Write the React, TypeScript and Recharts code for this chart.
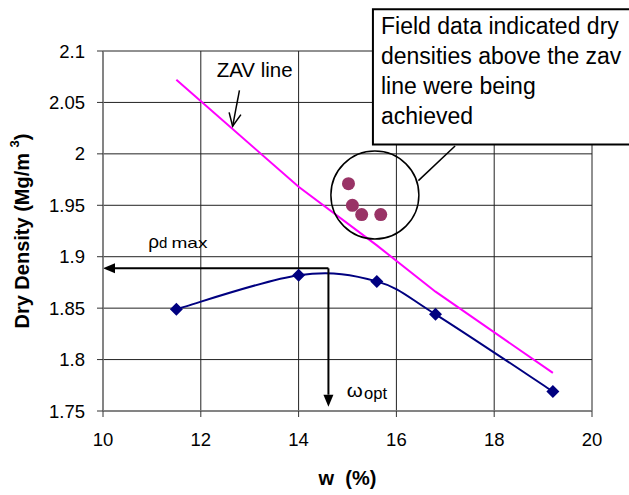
import React from "react";
import {
  ComposedChart,
  Line,
  Scatter,
  XAxis,
  YAxis,
  CartesianGrid,
  ReferenceLine,
  ReferenceDot,
  ReferenceArea,
  Label,
} from "recharts";

// compaction test (Proctor curve)
const compactW = [11.5, 14.0, 15.6, 16.8, 19.2];
const compactRho = [1.849, 1.882, 1.876, 1.844, 1.769];

// zero air voids line, at the same moisture contents
const zavRho = [2.072, 1.968, 1.911, 1.866, 1.787];

// field measurements
const fieldW = [15.02, 15.1, 15.29, 15.68];
const fieldRho = [1.971, 1.95, 1.941, 1.941];

const xTicks = [10, 12, 14, 16, 18, 20];
const yTicks = [1.75, 1.8, 1.85, 1.9, 1.95, 2, 2.05, 2.1];

const calloutLines = [
  "Field data indicated dry",
  "densities above the zav",
  "line were being",
  "achieved",
];

const compactData = compactW.map((w, i) => ({ w, rho: compactRho[i] }));
const zavData = compactW.map((w, i) => ({ w, rho: zavRho[i] }));
const fieldData = fieldW.map((w, i) => ({ w, rho: fieldRho[i] }));

const FONT = '"Liberation Sans", Arial, sans-serif';

// Excel style smoothed line (catmull-rom as cubic beziers)
function excelSmooth(context: any) {
  let pts: number[][] = [];
  return {
    areaStart() {},
    areaEnd() {},
    lineStart() {
      pts = [];
    },
    point(x: number, y: number) {
      pts.push([+x, +y]);
    },
    lineEnd() {
      const n = pts.length;
      if (!n) return;
      context.moveTo(pts[0][0], pts[0][1]);
      const t = 1 / 6;
      for (let i = 0; i < n - 1; i++) {
        const p0 = pts[Math.max(i - 1, 0)];
        const p1 = pts[i];
        const p2 = pts[i + 1];
        const p3 = pts[Math.min(i + 2, n - 1)];
        context.bezierCurveTo(
          p1[0] + (p2[0] - p0[0]) * t,
          p1[1] + (p2[1] - p0[1]) * t,
          p2[0] - (p3[0] - p1[0]) * t,
          p2[1] - (p3[1] - p1[1]) * t,
          p2[0],
          p2[1]
        );
      }
    },
  };
}

const Diamond = (props: any) => {
  const { cx, cy, index } = props;
  if (cx == null || cy == null) return <g key={`d-${index}`} />;
  const s = 6.5;
  return (
    <path
      key={`d-${index}`}
      d={`M${cx},${cy - s}L${cx + s},${cy}L${cx},${cy + s}L${cx - s},${cy}Z`}
      fill="#000080"
    />
  );
};

// solid arrow, head at the second point of the segment
const FilledArrow = (props: any) => {
  const { x1, y1, x2, y2 } = props;
  const dx = x2 - x1;
  const dy = y2 - y1;
  const len = Math.hypot(dx, dy) || 1;
  const ux = dx / len;
  const uy = dy / len;
  const hl = 12;
  const hw = 5;
  const bx = x2 - ux * hl;
  const by = y2 - uy * hl;
  return (
    <g>
      <line x1={x1} y1={y1} x2={bx} y2={by} stroke="#000" strokeWidth={2} />
      <path
        d={`M${x2},${y2}L${bx - uy * hw},${by + ux * hw}L${bx + uy * hw},${by - ux * hw}Z`}
        fill="#000"
      />
    </g>
  );
};

// thin arrow with an open head
const OpenArrow = (props: any) => {
  const { x1, y1, x2, y2 } = props;
  const dx = x2 - x1;
  const dy = y2 - y1;
  const len = Math.hypot(dx, dy) || 1;
  const ux = dx / len;
  const uy = dy / len;
  const hl = 13;
  const hw = 6;
  const bx = x2 - ux * hl;
  const by = y2 - uy * hl;
  return (
    <g fill="none" stroke="#000" strokeWidth={1.5}>
      <line x1={x1} y1={y1} x2={x2} y2={y2} />
      <path d={`M${bx - uy * hw},${by + ux * hw}L${x2},${y2}L${bx + uy * hw},${by - ux * hw}`} />
    </g>
  );
};

const PlainLine = (props: any) => {
  const { x1, y1, x2, y2 } = props;
  return <line x1={x1} y1={y1} x2={x2} y2={y2} stroke="#000" strokeWidth={1.5} />;
};

const fmtY = (v: number) => String(Number(v.toFixed(2)));

export default function App() {
  return (
    <div style={{ position: "absolute", left: 0, top: 0, fontFamily: FONT, background: "#fff" }}>
      <ComposedChart
        width={629}
        height={495}
        margin={{ top: 51, right: 37, bottom: 0, left: 0 }}
      >
        <CartesianGrid stroke="#222" strokeWidth={1} />
        <XAxis
          dataKey="w"
          type="number"
          domain={[10, 20]}
          ticks={xTicks}
          height={84}
          tickSize={6}
          tickMargin={16}
          axisLine={{ stroke: "#808080", strokeWidth: 1.5 }}
          tickLine={{ stroke: "#333" }}
          tick={{ fontSize: 18.5, fill: "#000", fontFamily: FONT }}
        >
          <Label
            content={(p: any) => {
              const vb = p.viewBox;
              return (
                <text
                  x={vb.x + vb.width / 2}
                  y={vb.y + 67}
                  textAnchor="middle"
                  dominantBaseline="central"
                  fontWeight="bold"
                  fontSize={20}
                  fontFamily={FONT}
                  fill="#000"
                  style={{ whiteSpace: "pre" }}
                >
                  {"w  (%)"}
                </text>
              );
            }}
          />
        </XAxis>
        <YAxis
          dataKey="rho"
          type="number"
          domain={[1.75, 2.1]}
          ticks={yTicks}
          width={103}
          tickSize={6}
          tickMargin={12}
          tickFormatter={fmtY}
          axisLine={{ stroke: "#808080", strokeWidth: 1.5 }}
          tickLine={{ stroke: "#333" }}
          tick={{ fontSize: 18.5, fill: "#000", fontFamily: FONT }}
        >
          <Label
            content={(p: any) => {
              const vb = p.viewBox;
              const cx = vb.x + 22;
              const cy = vb.y + vb.height / 2;
              return (
                <text
                  x={cx}
                  y={cy}
                  transform={`rotate(-90 ${cx} ${cy})`}
                  textAnchor="middle"
                  dominantBaseline="central"
                  fontWeight="bold"
                  fontSize={20}
                  fontFamily={FONT}
                  fill="#000"
                >
                  Dry Density (Mg/m{" "}
                  <tspan fontSize={13} dy={-8}>
                    3
                  </tspan>
                  <tspan dy={8}>)</tspan>
                </text>
              );
            }}
          />
        </YAxis>

        <Line
          data={zavData}
          dataKey="rho"
          type="linear"
          stroke="#FF00FF"
          strokeWidth={2}
          dot={false}
          activeDot={false}
          isAnimationActive={false}
        />
        <Line
          data={compactData}
          dataKey="rho"
          type={excelSmooth as any}
          stroke="#000080"
          strokeWidth={2}
          dot={Diamond}
          activeDot={false}
          isAnimationActive={false}
        />
        <Scatter
          data={fieldData}
          dataKey="rho"
          isAnimationActive={false}
          shape={(p: any) => <circle cx={p.cx} cy={p.cy} r={6.5} fill="#993366" />}
        />

        {/* rho_d max and w_opt arrows */}
        <ReferenceLine
          segment={[{ x: 14.61, y: 1.8887 }, { x: 10, y: 1.8887 }]}
          ifOverflow="visible"
          shape={FilledArrow}
        />
        <ReferenceLine
          segment={[{ x: 14.61, y: 1.8887 }, { x: 14.61, y: 1.7542 }]}
          ifOverflow="visible"
          shape={FilledArrow}
        />
        <ReferenceDot
          x={10.926}
          y={1.9088}
          ifOverflow="visible"
          shape={(p: any) => (
            <text x={p.cx} y={p.cy} fontFamily={FONT} fill="#000">
              <tspan fontSize={19}>ρ</tspan>
              <tspan fontSize={15}>d</tspan>
              <tspan dx={4} fontSize={15} textLength={36} lengthAdjust="spacingAndGlyphs">
                max
              </tspan>
            </text>
          )}
        />
        <ReferenceDot
          x={14.985}
          y={1.7639}
          ifOverflow="visible"
          shape={(p: any) => (
            <text x={p.cx} y={p.cy} fontFamily={FONT} fill="#000">
              <tspan fontSize={19} textLength={16} lengthAdjust="spacingAndGlyphs">
                ω
              </tspan>
              <tspan x={p.cx + 17.3} dy={2.6} fontSize={16} textLength={23} lengthAdjust="spacingAndGlyphs">
                opt
              </tspan>
            </text>
          )}
        />

        {/* ZAV label */}
        <ReferenceDot
          x={12.325}
          y={2.075}
          ifOverflow="visible"
          shape={(p: any) => (
            <text x={p.cx} y={p.cy} fontSize={20.5} fontFamily={FONT} fill="#000">
              ZAV line
            </text>
          )}
        />
        <ReferenceLine
          segment={[{ x: 12.79, y: 2.0618 }, { x: 12.65, y: 2.0268 }]}
          ifOverflow="visible"
          shape={OpenArrow}
        />

        {/* callout for field data */}
        <ReferenceDot
          x={15.56}
          y={1.96}
          r={44}
          ifOverflow="visible"
          fill="none"
          stroke="#000"
          strokeWidth={1.5}
        />
        <ReferenceLine
          segment={[{ x: 16.45, y: 1.974 }, { x: 17.2, y: 2.0077 }]}
          ifOverflow="visible"
          shape={PlainLine}
        />
        <ReferenceArea
          x1={15.52}
          x2={21.2}
          y1={2.009}
          y2={2.1405}
          ifOverflow="visible"
          fill="#fff"
          fillOpacity={1}
          stroke="#000"
          strokeWidth={2}
        />
        <ReferenceDot
          x={15.685}
          y={2.1162}
          ifOverflow="visible"
          shape={(p: any) => (
            <text x={p.cx} y={p.cy} fontSize={23} fontFamily={FONT} fill="#000">
              {calloutLines.map((t, i) => (
                <tspan key={i} x={p.cx} dy={i === 0 ? 0 : 30}>
                  {t}
                </tspan>
              ))}
            </text>
          )}
        />
      </ComposedChart>
    </div>
  );
}
